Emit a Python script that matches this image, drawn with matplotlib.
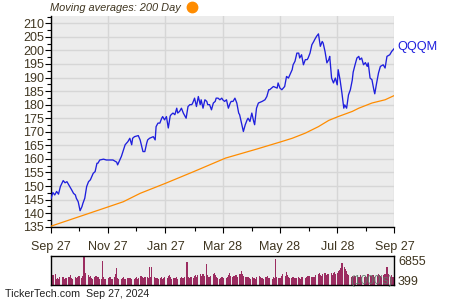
import matplotlib
matplotlib.use("Agg")
import matplotlib.pyplot as plt
import matplotlib.dates as mdates
from matplotlib.lines import Line2D
import numpy as np
import pandas as pd

plt.rcParams['font.family'] = ['Liberation Sans', 'DejaVu Sans']

# ---------------- data ----------------
start_date = "2023-09-27"
end_date = "2024-09-27"
ticker = "QQQM"

# price: days since start, closing price
price_day = [0, 2, 4, 6, 8, 10, 13, 15, 17, 18, 20, 22, 24, 26, 27, 29, 31, 33, 34, 36,
             38, 40, 42, 45, 47, 49, 50, 52, 56, 59, 63, 66, 70, 71, 75, 79, 82, 84, 86, 87,
             89, 93, 95, 98, 100, 102, 103, 105, 109, 111, 112, 114, 116, 118, 119, 121, 123, 125, 127, 128,
             130, 132, 134, 135, 137, 139, 141, 143, 144, 146, 148, 150, 151, 153, 155, 157, 159, 160, 162, 164,
             166, 167, 169, 171, 173, 175, 176, 178, 180, 182, 183, 185, 187, 189, 191, 192, 194, 196, 198, 200,
             201, 205, 207, 209, 210, 212, 214, 216, 217, 219, 221, 225, 228, 230, 232, 233, 237, 241, 242, 244,
             246, 249, 251, 253, 257, 258, 260, 262, 264, 265, 267, 269, 271, 273, 274, 276, 278, 280, 281, 283,
             285, 287, 289, 290, 292, 294, 296, 297, 299, 301, 303, 305, 306, 308, 310, 312, 313, 315, 317, 319,
             321, 322, 324, 326, 328, 329, 331, 333, 335, 337, 338, 340, 342, 344, 345, 347, 349, 351, 353, 354,
             356, 358, 360, 361, 363, 366]
price = [145.3, 147.6, 146.7, 148.0, 147.0, 149.8, 152.0, 151.2, 151.6, 151.0, 149.8, 148.6, 147.3, 146.7, 145.5, 144.2, 140.9, 142.4, 143.6, 145.5,
         149.8, 151.6, 152.3, 154.7, 155.3, 158.4, 158.4, 159.6, 159.9, 159.6, 159.6, 159.6, 158.8, 157.8, 160.9, 165.2, 166.4, 167.6, 165.2, 167.6,
         168.2, 168.6, 167.0, 162.7, 162.7, 165.8, 167.0, 167.6, 168.2, 167.0, 171.9, 173.2, 173.2, 175.0, 175.6, 174.4, 175.6, 171.4, 175.8, 176.3,
         176.9, 176.3, 178.7, 176.9, 177.5, 178.7, 176.9, 175.6, 175.0, 179.3, 180.0, 180.0, 180.6, 182.4, 179.3, 183.0, 180.0, 181.8, 178.7, 181.8,
         181.2, 180.0, 180.0, 178.1, 180.6, 181.2, 182.4, 182.4, 181.8, 182.4, 181.8, 181.2, 181.8, 178.7, 180.6, 181.2, 181.2, 182.4, 180.6, 176.9,
         176.3, 170.1, 172.6, 174.4, 175.0, 173.8, 176.9, 173.8, 172.6, 178.7, 180.6, 181.2, 181.8, 183.0, 185.5, 185.5, 186.7, 186.1, 188.0, 186.1,
         185.5, 186.7, 190.4, 189.8, 192.9, 194.7, 196.0, 199.0, 199.0, 197.2, 198.4, 194.7, 196.6, 196.6, 197.2, 199.0, 202.1, 203.3, 204.0, 205.2,
         206.1, 201.5, 203.3, 202.7, 199.6, 195.4, 196.6, 197.8, 189.8, 188.0, 189.8, 187.3, 192.9, 189.2, 184.3, 178.7, 179.9, 178.7, 183.6, 185.5,
         189.0, 192.0, 194.7, 197.2, 197.8, 196.6, 197.2, 194.7, 195.5, 194.1, 195.4, 189.8, 189.2, 185.5, 184.0, 188.0, 191.7, 194.1, 194.5, 194.7,
         193.5, 197.8, 198.2, 198.4, 199.6, 200.8]

# 200-day moving average: days since start, value
ma_day = [0, 30, 60, 77, 95, 122, 152, 186, 219, 244, 257, 271, 285, 296, 306, 321, 328, 342, 356, 366]
ma200 = [135.2, 138.7, 142.2, 144.2, 147.3, 151.0, 155.3, 160.3, 163.6, 166.2, 167.6, 169.5, 171.9, 174.2,
         175.6, 177.5, 178.7, 180.6, 181.8, 183.4]

# daily volume (1000's), one per weekday
volume = [
    1900, 1600, 2300, 2600, 1500, 1700, 1400, 1800, 1600, 2000, 1500, 1300, 1700, 1900, 1400, 2400, 1600, 1500, 1800, 1700,
    1600, 1900, 2100, 1700, 2200, 6855, 2000, 2800, 2400, 1900, 2100, 1600, 1500, 1800, 2200, 1700, 1900, 1500, 1400, 5750,
    1800, 1500, 1300, 1600, 1700, 2000, 1500, 1400, 1800, 2600, 3950, 1700, 1500, 1300, 1600, 1900, 1500, 1400, 1700, 1600,
    1500, 1700, 1400, 1300, 1600, 1800, 1500, 1700, 2200, 1900, 1600, 1500, 1800, 2000, 1700, 4270, 1900, 4200, 1800, 1600,
    1500, 1700, 1400, 1600, 1900, 1500, 1700, 1800, 1600, 2100, 2400, 1800, 1500, 1700, 1400, 1600, 1800, 1500, 1700, 1900,
    1700, 1600, 1900, 5500, 2000, 1600, 1500, 1800, 1700, 2200, 2400, 2000, 2300, 2600, 2200, 1800, 2500, 2100, 4850, 2300,
    2000, 1800, 2200, 2500, 2900, 2300, 1900, 1700, 1500, 1600, 2000, 1800, 1600, 1700, 1900, 2400, 2800, 2200, 1900, 2100,
    2000, 2300, 1900, 2500, 2700, 3200, 2600, 2200, 1800, 1700, 2000, 1600, 1500, 1800, 1700, 1600, 1500, 1900, 2200, 1800,
    1700, 1600, 1500, 1900, 1800, 2200, 1700, 1600, 1500, 1800, 1700, 6180, 1900, 1700, 1600, 1500, 2100, 2500, 2200, 3070,
    2400, 1900, 1700, 1600, 1800, 1500, 1700, 1600, 1900, 1700, 1500, 1800, 2000, 1700, 1600, 1900, 2200, 2100, 1800, 1700,
    1800, 2000, 2300, 2600, 2900, 2400, 2200, 2600, 2800, 2300, 2000, 2500, 2700, 2900, 2400, 2800, 3000, 2600, 2900, 3300,
    3500, 4000, 5300, 4300, 3800, 3300, 2700, 2400, 2000, 2200, 1900, 1800, 2100, 2000, 1700, 1900, 2300, 2000, 1800, 2100,
    1900, 2200, 2500, 2100, 1800, 2300, 2000, 1700, 2200, 2600, 2300, 2100, 1900, 2400, 2700, 2200, 4200, 2500, 2000, 2300,
    2000, 1800, 399,
]

y_ticks = [135, 140, 145, 150, 155, 160, 165, 170, 175, 180, 185, 190, 195, 200, 205, 210]
x_tick_dates = ["2023-09-27", "2023-11-27", "2024-01-27", "2024-03-28", "2024-05-28", "2024-07-28", "2024-09-27"]
x_tick_labels = ["Sep 27", "Nov 27", "Jan 27", "Mar 28", "May 28", "Jul 28", "Sep 27"]
x_minor_dates = ["2023-10-27", "2023-12-27", "2024-02-27", "2024-04-28", "2024-06-28", "2024-08-28"]
title_text = "Moving averages: 200 Day"
footer_text = "TickerTech.com  Sep 27, 2024"

# ---------------- styling ----------------
TXT = '#3f3520'
BG = '#ececec'
GRID = '#d6d6d6'
BLUE = '#1f1fdd'
ORANGE = '#ff8c00'
VOLC = '#9b2c60'

t0 = pd.Timestamp(start_date)
p_dates = [t0 + pd.Timedelta(days=d) for d in price_day]
m_dates = [t0 + pd.Timedelta(days=d) for d in ma_day]
v_dates = pd.bdate_range(start_date, end_date)
n = min(len(v_dates), len(volume))

fig = plt.figure(figsize=(4.5, 3.0), dpi=100)
ax = fig.add_axes([0.1133, 0.2443, 0.7633, 0.7034])
ax.set_facecolor(BG)
ax.plot(m_dates, ma200, color=ORANGE, lw=0.9, zorder=3)
ax.plot(p_dates, price, color=BLUE, lw=0.95, zorder=4)

ax.set_xlim(pd.Timestamp(start_date), pd.Timestamp(end_date))
ax.set_ylim(135, 212.8)
ax.set_yticks(y_ticks)
ax.set_yticks(np.arange(137.5, 212.8, 5), minor=True)
ax.set_xticks(pd.to_datetime(x_tick_dates))
ax.set_xticklabels(x_tick_labels)
ax.set_xticks(pd.to_datetime(x_minor_dates), minor=True)
ax.grid(True, which='major', color=GRID, lw=1.0)
ax.set_axisbelow(True)
for s in ['top', 'right']:
    ax.spines[s].set_visible(False)
for s in ['left', 'bottom']:
    ax.spines[s].set_color('black')
    ax.spines[s].set_linewidth(1.0)
ax.tick_params(axis='both', which='both', color='black', labelcolor=TXT, labelsize=9)
ax.tick_params(axis='both', which='major', length=4, width=0.8)
ax.tick_params(axis='both', which='minor', length=3, width=0.8)
ax.tick_params(axis='x', pad=6)
ax.tick_params(axis='y', pad=1)

ax.annotate(ticker, xy=(p_dates[-1], price[-1]), xytext=(2, 1), textcoords='offset points',
            color=BLUE, fontsize=9.2, va='center', ha='left', annotation_clip=False)

# volume panel
vax = fig.add_axes([0.1133, 0.05, 0.7633, 0.0967])
vax.set_facecolor(BG)
vax.bar(v_dates[:n], volume[:n], width=1.5, color=VOLC, linewidth=0)
vax.set_xlim(pd.Timestamp(start_date), pd.Timestamp(end_date))
vax.set_ylim(0, max(volume))
vax.set_xticks([])
vax.set_yticks([])
for s in vax.spines.values():
    s.set_color('black')
    s.set_linewidth(1.0)
vax.text(1.01, 0.78, str(max(volume)), transform=vax.transAxes, ha='left', va='center',
         fontsize=9, color=TXT)
vax.text(1.01, 0.12, str(min(volume)), transform=vax.transAxes, ha='left', va='center',
         fontsize=9, color=TXT)
vax.text(0.995, 0.15, "(1000's)", transform=vax.transAxes, ha='right', va='center',
         fontsize=8.5, color='#5d7d6a', alpha=0.9)

fig.text(50 / 450, 1 - 8 / 300, title_text, ha='left', va='center', fontsize=7.9,
         style='italic', color=TXT)
fig.add_artist(Line2D([192 / 450], [1 - 7 / 300], marker='o', markersize=7.5, color=ORANGE,
                      transform=fig.transFigure))
fig.text(5 / 450, 1 - 294 / 300, footer_text, ha='left', va='center', fontsize=7.7, color='#222222')

fig.savefig("out.png", dpi=100)
